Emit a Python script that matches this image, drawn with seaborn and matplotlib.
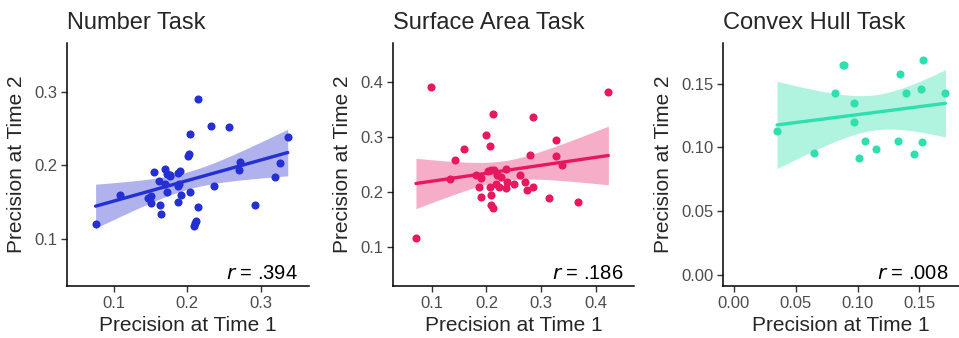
import numpy as np
import pandas as pd
import seaborn as sns
import matplotlib
matplotlib.use("Agg")
import matplotlib.pyplot as plt

# ---------------- data ----------------
number_t1 = [0.075, 0.108, 0.147, 0.150, 0.151, 0.154, 0.161, 0.163, 0.164, 0.169,
             0.170, 0.172, 0.172, 0.176, 0.177, 0.188, 0.188, 0.190, 0.189, 0.188,
             0.191, 0.201, 0.203, 0.204, 0.204, 0.209, 0.211, 0.212, 0.214, 0.214,
             0.233, 0.237, 0.257, 0.270, 0.272, 0.293, 0.319, 0.326, 0.337]
number_t2 = [0.120, 0.160, 0.156, 0.149, 0.158, 0.191, 0.178, 0.146, 0.134, 0.175,
             0.195, 0.188, 0.164, 0.185, 0.187, 0.172, 0.190, 0.192, 0.175, 0.150,
             0.160, 0.212, 0.215, 0.243, 0.164, 0.118, 0.122, 0.124, 0.290, 0.143,
             0.253, 0.172, 0.252, 0.194, 0.205, 0.146, 0.184, 0.203, 0.239]

surface_t1 = [0.071, 0.098, 0.133, 0.143, 0.159, 0.181, 0.187, 0.190, 0.190, 0.200,
              0.203, 0.206, 0.207, 0.209, 0.209, 0.209, 0.212, 0.212, 0.213, 0.217,
              0.220, 0.223, 0.226, 0.235, 0.236, 0.238, 0.250, 0.261, 0.270, 0.274,
              0.279, 0.286, 0.286, 0.314, 0.327, 0.328, 0.339, 0.368, 0.423]
surface_t2 = [0.116, 0.390, 0.224, 0.257, 0.278, 0.231, 0.208, 0.190, 0.225, 0.303,
              0.237, 0.283, 0.209, 0.240, 0.194, 0.176, 0.341, 0.171, 0.240, 0.215,
              0.230, 0.208, 0.226, 0.242, 0.206, 0.217, 0.214, 0.230, 0.217, 0.203,
              0.266, 0.336, 0.208, 0.188, 0.294, 0.265, 0.249, 0.182, 0.381]

hull_t1 = [0.035, 0.065, 0.082, 0.088, 0.089, 0.097, 0.097, 0.101, 0.106, 0.115,
           0.133, 0.134, 0.139, 0.146, 0.151, 0.152, 0.153, 0.171]
hull_t2 = [0.113, 0.096, 0.143, 0.165, 0.165, 0.135, 0.120, 0.092, 0.105, 0.099,
           0.105, 0.158, 0.143, 0.095, 0.146, 0.104, 0.169, 0.143]

titles = ["Number Task", "Surface Area Task", "Convex Hull Task"]
r_labels = [".394", ".186", ".008"]
point_colors = ["#2430D4", "#E8185E", "#2EE0AE"]
ribbon_colors = ["#A6AAEC", "#F5A5C2", "#A8F2DC"]
x_ticks = [[0.1, 0.2, 0.3], [0.1, 0.2, 0.3, 0.4], [0.00, 0.05, 0.10, 0.15]]
y_ticks = [[0.1, 0.2, 0.3], [0.1, 0.2, 0.3, 0.4], [0.00, 0.05, 0.10, 0.15]]
tick_fmt = ["{:.1f}", "{:.1f}", "{:.2f}"]
limits = [(0.036, 0.366), (0.029, 0.470), (-0.0087, 0.182)]

datasets = [(number_t1, number_t2), (surface_t1, surface_t2), (hull_t1, hull_t2)]


def t975(df):
    try:
        from scipy import stats
        return float(stats.t.ppf(0.975, df))
    except Exception:
        table = {16: 2.120, 37: 2.026}
        return table.get(df, 2.0)


def analytic_band(x, y, n_grid=100):
    x = np.asarray(x, float)
    y = np.asarray(y, float)
    n = len(x)
    slope, intercept = np.polyfit(x, y, 1)
    resid = y - (intercept + slope * x)
    s = np.sqrt(np.sum(resid ** 2) / (n - 2))
    xbar = x.mean()
    sxx = np.sum((x - xbar) ** 2)
    grid = np.linspace(x.min(), x.max(), n_grid)
    fit = intercept + slope * grid
    se = s * np.sqrt(1 / n + (grid - xbar) ** 2 / sxx)
    t = t975(n - 2)
    return grid, fit - t * se, fit + t * se


# ---------------- style ----------------
sns.set_style("ticks")
plt.rcParams['font.family'] = ['Liberation Sans', 'DejaVu Sans']

fig = plt.figure(figsize=(9.59, 3.38), dpi=100)
ax_pos = [
    [67 / 959, 1 - 286 / 338, 242 / 959, 243 / 338],
    [393 / 959, 1 - 286 / 338, 241 / 959, 243 / 338],
    [723 / 959, 1 - 286 / 338, 236 / 959, 243 / 338],
]

for i, (x, y) in enumerate(datasets):
    ax = fig.add_axes(ax_pos[i])
    df = pd.DataFrame({"t1": x, "t2": y})
    grid, lo_b, hi_b = analytic_band(x, y)
    ax.fill_between(grid, lo_b, hi_b, color=ribbon_colors[i], alpha=0.9,
                    linewidth=0, zorder=1)
    sns.regplot(data=df, x="t1", y="t2", ax=ax, color=point_colors[i],
                ci=None, truncate=True,
                scatter_kws=dict(s=34, linewidths=0, alpha=1, zorder=2),
                line_kws=dict(lw=2.4, zorder=4))
    lo, hi = limits[i]
    ax.set_xlim(lo, hi)
    ax.set_ylim(lo, hi)
    ax.set_xticks(x_ticks[i])
    ax.set_yticks(y_ticks[i])
    ax.set_xticklabels([tick_fmt[i].format(v) for v in x_ticks[i]])
    ax.set_yticklabels([tick_fmt[i].format(v) for v in y_ticks[i]])
    ax.tick_params(axis="both", labelsize=12, labelcolor="#4D4D4D",
                   color="#333333", length=4, width=1, pad=3)
    for s in ["left", "bottom"]:
        ax.spines[s].set_linewidth(1.1)
        ax.spines[s].set_color("black")
    sns.despine(ax=ax)
    ax.set_xlabel("Precision at Time 1", fontsize=15, labelpad=4)
    ax.set_ylabel("Precision at Time 2", fontsize=15, labelpad=6)
    ax.set_title(titles[i], loc="left", fontsize=17, pad=10)
    ax.text(0.955, 0.03, r"$\it{r}$" + " = " + r_labels[i], transform=ax.transAxes,
            ha="right", va="baseline", fontsize=14.5, color="black")

fig.savefig("out.png", dpi=100)
